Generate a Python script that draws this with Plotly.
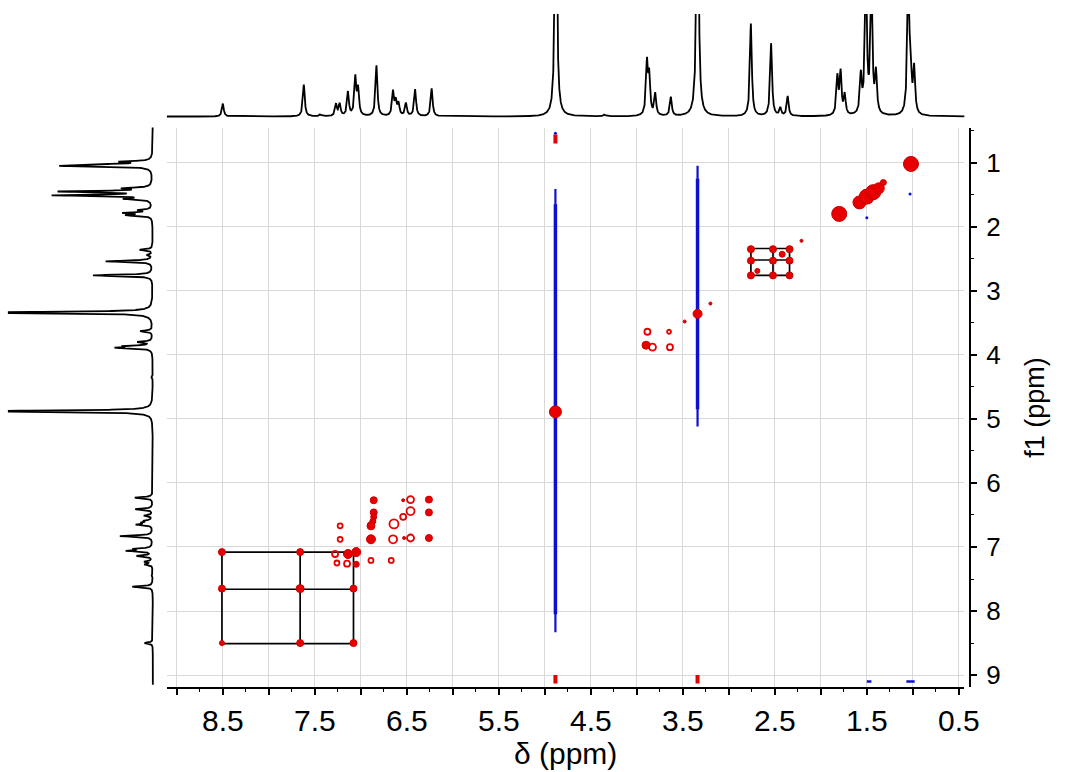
import numpy as np
import plotly.graph_objects as go

# ---------------- data ----------------
# 1D 1H projection: peak positions (ppm) and heights (top-panel intensity units)
h1_ppm = [8.50, 7.62, 7.44, 7.27, 7.23, 7.14, 7.06, 7.03, 6.83, 6.65, 6.62, 6.59,
          6.51, 6.41, 6.23, 4.88, 4.35, 3.89, 3.865, 3.80, 3.63, 3.34, 2.76, 2.54,
          2.44, 2.36, 1.82, 1.785, 1.74, 1.565, 1.51, 1.45, 1.40, 1.05, 1.025, 0.985]
h1_int = [13, 32, 2, 12, 12, 24, 38, 26, 51, 24, 14, 12,
          13, 27, 28, 300, 2, 52, 38, 22, 19, 320, 93, 73,
          8, 20, 38, 42, 20, 38, 150, 140, 40, 135, 50, 45]

# 2D COSY cross/diagonal peaks (f2 ppm, f1 ppm, marker size) - filled contours
solid_f2 = [6.86, 6.26, 6.86, 6.86, 6.87, 6.89, 6.26, 6.89, 6.26, 7.14, 7.05, 7.05,
            8.51, 7.66, 8.51, 7.66, 7.08, 8.51, 7.66, 7.08,
            4.885, 3.34, 3.90, 3.48, 3.20,
            2.76, 2.52, 2.34, 2.76, 2.52, 2.34, 2.76, 2.52, 2.34, 2.42, 2.69, 2.21,
            1.80, 1.58, 1.50, 1.43, 1.37, 1.32, 1.02,
            6.54, 6.53]
solid_f1 = [6.27, 6.26, 6.46, 6.53, 6.60, 6.67, 6.46, 6.88, 6.86, 7.11, 7.08, 7.27,
            7.08, 7.08, 7.65, 7.65, 7.65, 8.50, 8.50, 8.50,
            4.89, 3.36, 3.85, 3.48, 3.20,
            2.35, 2.35, 2.35, 2.53, 2.53, 2.53, 2.76, 2.76, 2.76, 2.43, 2.69, 2.22,
            1.80, 1.62, 1.53, 1.46, 1.40, 1.31, 1.02,
            6.27, 6.86]
solid_sz = [7, 7, 7, 6, 6, 8, 7, 9, 7, 9, 9, 6,
            7, 7, 7, 8, 7, 5, 7, 7,
            12, 9, 8, 3, 3,
            7, 7, 7, 7, 7, 7, 7, 7, 7, 6, 5, 3,
            15, 13, 15, 15, 11, 6, 15,
            3, 3]

open_f2 = [6.64, 6.54, 6.46, 6.65, 6.46, 6.46, 7.225, 7.225, 7.28, 7.26, 7.15,
           6.89, 6.67, 3.885, 3.83, 3.65, 3.64]
open_f1 = [6.64, 6.53, 6.44, 6.88, 6.86, 6.26, 6.67, 6.88, 7.11, 7.25, 7.26,
           7.21, 7.21, 3.64, 3.88, 3.64, 3.88]
open_sz = [9, 6, 8, 8, 7, 7, 5, 5, 6, 5, 6,
           5, 5, 6, 7, 4, 6]

# negative (blue) t1-noise ridges: f2 position, f1 start, f1 end (outer / core)
ridge_f2 = [4.885, 3.34]
ridge_f1_start = [1.41, 1.05]
ridge_f1_end = [8.33, 5.12]
ridge_core_start = [1.65, 1.25]
ridge_core_end = [8.05, 4.85]

# red edge artefacts (f2, f1 start, f1 end)
art_f2 = [4.885, 4.885, 3.34]
art_f1_start = [0.56, 9.00, 9.00]
art_f1_end = [0.70, 9.13, 9.13]

# small blue negative features (f2 start, f2 end, f1)
neg_f2_start = [1.50, 1.07]
neg_f2_end = [1.45, 0.98]
neg_f1 = [9.10, 9.10]
neg_dot_f2 = [1.03, 1.50, 4.885]
neg_dot_f1 = [1.49, 1.86, 0.54]

# spin-system connectivity boxes
box1 = [8.51, 7.66, 7.08]
box2 = [2.76, 2.52, 2.34]

x_tickvals = [round(0.5 * i, 1) for i in range(1, 19)]
x_ticktext = [("%.1f" % v) if abs(v * 2 % 2 - 1) < 1e-6 else "" for v in x_tickvals]
y_tickvals = [1, 2, 3, 4, 5, 6, 7, 8, 9]
y_ticktext = ["1", "2", "3", "4", "5", "6", "7", "8", "9"]

# ---------------- build 1D projection from the peak list ----------------
hwhm = 0.012
grid = np.round(np.arange(0.40, 9.15, 0.001), 3)
spec = np.zeros_like(grid)
for p, h in zip(h1_ppm, h1_int):
    spec += h / (1.0 + ((grid - p) / hwhm) ** 2)
spec = np.round(spec, 2)

W, H = 1073, 772
xd = [169.3 / W, 978 / W]
yd = [(H - 690) / H, (H - 128) / H]
XR = [9.108, 0.44]
YR = [9.191, 0.451]

RED = "rgb(232,0,0)"
DRED = "rgb(200,0,0)"
BLUE = "rgb(15,15,210)"

fig = go.Figure()

# blue ridges (tapered: thin outer + thicker core)
for f2, a, b in zip(ridge_f2, ridge_f1_start, ridge_f1_end):
    fig.add_trace(go.Scatter(x=[f2, f2], y=[a, b], mode="lines",
                             line=dict(color=BLUE, width=2.2), hoverinfo="skip"))
for f2, a, b in zip(ridge_f2, ridge_core_start, ridge_core_end):
    fig.add_trace(go.Scatter(x=[f2, f2], y=[a, b], mode="lines",
                             line=dict(color=BLUE, width=3.5), hoverinfo="skip"))
for a, b, f1 in zip(neg_f2_start, neg_f2_end, neg_f1):
    fig.add_trace(go.Scatter(x=[a, b], y=[f1, f1], mode="lines",
                             line=dict(color=BLUE, width=2.5), hoverinfo="skip"))
fig.add_trace(go.Scatter(x=neg_dot_f2, y=neg_dot_f1, mode="markers",
                         marker=dict(color=BLUE, size=3, opacity=1), hoverinfo="skip"))
# red artefacts
for f2, a, b in zip(art_f2, art_f1_start, art_f1_end):
    fig.add_trace(go.Scatter(x=[f2, f2], y=[a, b], mode="lines",
                             line=dict(color=RED, width=4), hoverinfo="skip"))

# connectivity boxes
for box in (box1, box2):
    lo, hi = min(box), max(box)
    for v in box:
        fig.add_trace(go.Scatter(x=[hi, lo], y=[v, v], mode="lines",
                                 line=dict(color="black", width=1.7), hoverinfo="skip"))
        fig.add_trace(go.Scatter(x=[v, v], y=[lo, hi], mode="lines",
                                 line=dict(color="black", width=1.7), hoverinfo="skip"))

# positive contours
fig.add_trace(go.Scatter(x=open_f2, y=open_f1, mode="markers",
                         marker=dict(symbol="circle-open", size=open_sz, color=RED,
                                     opacity=1, line=dict(color=RED, width=1.8)),
                         hoverinfo="skip"))
fig.add_trace(go.Scatter(x=solid_f2, y=solid_f1, mode="markers",
                         marker=dict(symbol="circle", size=solid_sz, color=RED,
                                     opacity=1, line=dict(color=DRED, width=1)),
                         hoverinfo="skip"))

# top projection
fig.add_trace(go.Scatter(x=grid, y=spec, mode="lines", xaxis="x2", yaxis="y2",
                         line=dict(color="black", width=1.8), hoverinfo="skip"))
# left projection
fig.add_trace(go.Scatter(x=spec, y=grid, mode="lines", xaxis="x3", yaxis="y3",
                         line=dict(color="black", width=1.8), hoverinfo="skip"))

FONT = "Liberation Sans, Arial, sans-serif"
fig.update_layout(
    width=W, height=H, margin=dict(l=0, r=0, t=0, b=0),
    paper_bgcolor="white", plot_bgcolor="white", showlegend=False,
    font=dict(family=FONT, color="black"),
    xaxis=dict(domain=xd, range=XR, anchor="y", showline=True, linecolor="black",
               linewidth=1.5, ticks="outside", ticklen=6, tickwidth=1.5,
               tickcolor="black", tickmode="array", tickvals=x_tickvals,
               ticktext=x_ticktext, tickfont=dict(size=30),
               showgrid=True, gridcolor="#d8d8d8", gridwidth=1, zeroline=False,
               minor=dict(dtick=0.25, tick0=0, ticks="outside", ticklen=3,
                          tickwidth=1.2, tickcolor="black", showgrid=False),
               title=dict(text="δ (ppm)", font=dict(size=30), standoff=0)),
    yaxis=dict(domain=yd, range=YR, anchor="free", position=984 / W, side="right",
               showline=True, linecolor="black", linewidth=1.5, ticks="outside",
               ticklen=6, tickwidth=1.5, tickcolor="black", tickmode="array",
               tickvals=y_tickvals, ticktext=y_ticktext, tickfont=dict(size=26),
               ticklabelstandoff=4,
               showgrid=True, gridcolor="#d8d8d8", gridwidth=1, zeroline=False,
               minor=dict(dtick=0.5, tick0=0, ticks="outside", ticklen=3,
                          tickwidth=1.2, tickcolor="black", showgrid=False),
               title=dict(text="f1 (ppm)", font=dict(size=27), standoff=24)),
    xaxis2=dict(domain=xd, range=XR, anchor="y2", visible=False),
    yaxis2=dict(domain=[(H - 120) / H, (H - 14) / H], range=[-3, 103],
                anchor="x2", visible=False),
    xaxis3=dict(domain=[8 / W, 158 / W], range=[226.2, -4.6], anchor="y3",
                visible=False),
    yaxis3=dict(domain=yd, range=YR, anchor="x3", visible=False),
)

fig.write_html("out.html")
